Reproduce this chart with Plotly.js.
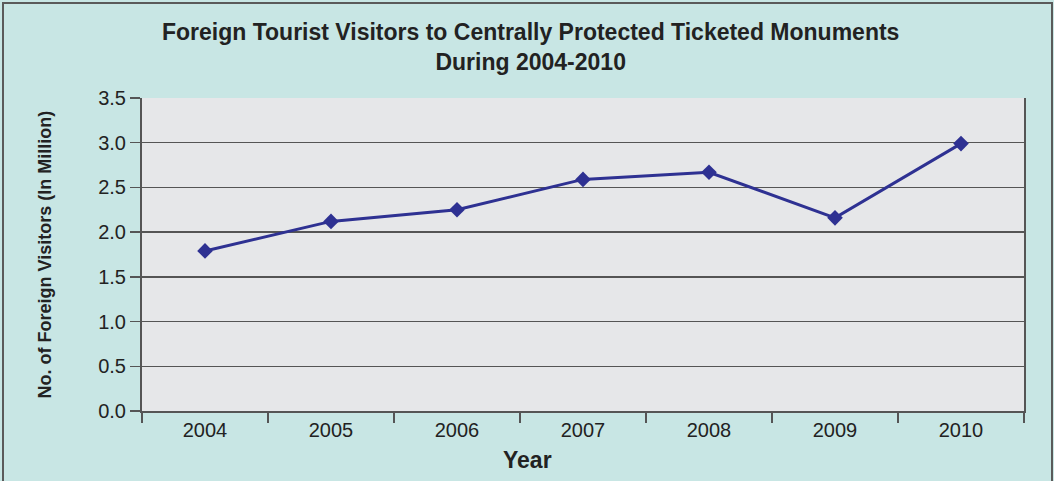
<!DOCTYPE html>
<html>
<head>
<meta charset="utf-8">
<script src="https://cdn.plot.ly/plotly-3.0.1.min.js"></script>
<style>
html,body{margin:0;padding:0;background:#C8E6E4;}
#wrap{position:relative;width:1054px;height:481px;overflow:hidden;}
#chart{width:1054px;height:481px;}
#frame{position:absolute;left:2px;top:2px;width:1047px;height:485px;border:2px solid #5a5a5a;pointer-events:none;}
</style>
</head>
<body>
<div id="wrap"><div id="chart"></div><div id="frame"></div></div>
<script>
const years = ['2004','2005','2006','2007','2008','2009','2010'];
const visitors = [1.79, 2.12, 2.25, 2.59, 2.67, 2.16, 2.99];
const yTicks = [0, 0.5, 1, 1.5, 2, 2.5, 3, 3.5];
const yTickLabels = ['0.0','0.5','1.0','1.5','2.0','2.5','3.0','3.5'];
const chartTitle = 'Foreign Tourist Visitors to Centrally Protected Ticketed Monuments<br>During 2004-2010';
const xTitle = 'Year';
const yTitle = 'No. of Foreign Visitors (In Million)';

const trace = {
  x: years, y: visitors, type: 'scatter', mode: 'lines+markers',
  line: {color: '#2E3192', width: 3},
  marker: {symbol: 'diamond', size: 12, color: '#2E3192'},
  hoverinfo: 'skip'
};

const layout = {
  width: 1054, height: 481,
  paper_bgcolor: '#C8E6E4', plot_bgcolor: '#E6E7E9',
  margin: {l: 142, r: 30, t: 98, b: 70},
  showlegend: false,
  font: {family: 'Liberation Sans, Arial, sans-serif', color: '#222'},
  xaxis: {
    type: 'category', range: [-0.5, years.length - 0.5], autorange: false,
    tickson: 'boundaries', ticks: 'outside', ticklen: 10, tickwidth: 1.5, tickcolor: '#555',
    showline: true, linecolor: '#555', linewidth: 2, showgrid: false,
    tickfont: {size: 20, color: '#222'}, fixedrange: true
  },
  yaxis: {
    range: [0, 3.5], tickvals: yTicks, ticktext: yTickLabels,
    ticks: 'outside', ticklen: 10, tickwidth: 1.5, tickcolor: '#555',
    showline: true, linecolor: '#555', linewidth: 2, mirror: true,
    showgrid: true, gridcolor: '#555', gridwidth: 1.5, zeroline: false,
    tickfont: {size: 20, color: '#222'},
    fixedrange: true
  },
  annotations: [
    {
      text: '<b>' + chartTitle + '</b>', xref: 'paper', yref: 'paper', x: 0.44, y: 1.1645,
      xanchor: 'center', yanchor: 'middle', showarrow: false,
      font: {size: 23, color: '#222'}
    },
    {
      text: '<b>' + xTitle + '</b>', xref: 'paper', yref: 'paper', x: 0.437, y: -0.1565,
      xanchor: 'center', yanchor: 'middle', showarrow: false, font: {size: 23, color: '#222'}
    },
    {
      text: '<b>' + yTitle + '</b>', xref: 'paper', yref: 'paper', x: -0.110, y: 0.5,
      xanchor: 'center', yanchor: 'middle', textangle: -90, showarrow: false, font: {size: 18, color: '#222'}
    }
  ]
};

Plotly.newPlot('chart', [trace], layout, {displayModeBar: false, staticPlot: true});
</script>
</body>
</html>
